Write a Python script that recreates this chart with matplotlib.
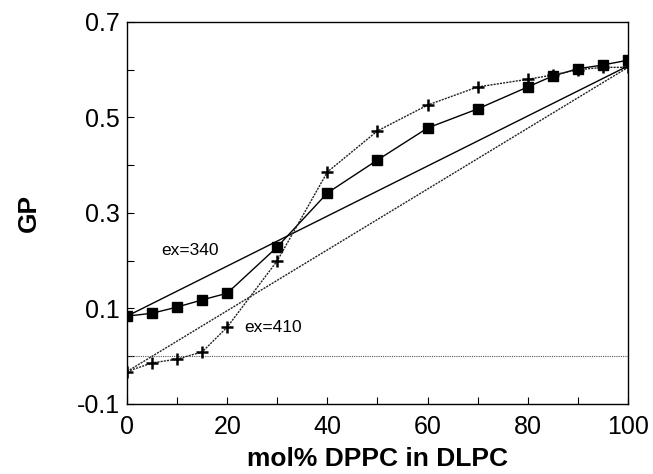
import matplotlib
matplotlib.use("Agg")
import matplotlib.pyplot as plt
import numpy as np

plt.rcParams['font.family'] = ['Liberation Sans', 'DejaVu Sans']

x_sq = [0, 5, 10, 15, 20, 30, 40, 50, 60, 70, 80, 85, 90, 95, 100]
gp_340 = [0.084, 0.090, 0.103, 0.118, 0.132, 0.229, 0.342, 0.411, 0.478, 0.518, 0.564, 0.587, 0.602, 0.610, 0.620]

x_pl = [0, 5, 10, 15, 20, 30, 40, 50, 60, 70, 80, 85, 90, 95, 100]
gp_410 = [-0.032, -0.014, -0.006, 0.009, 0.061, 0.200, 0.386, 0.472, 0.526, 0.564, 0.580, 0.589, 0.600, 0.605, 0.605]

ideal_x = [0, 100]
ideal_340 = [0.084, 0.608]
ideal_410 = [-0.032, 0.605]

fig = plt.figure(figsize=(6.53, 4.74), dpi=100)
ax = fig.add_axes([0.1945, 0.1477, 0.7672, 0.8059])

ax.axhline(0.0, color='#555555', lw=0.8, ls=(0, (1, 1)))
ax.plot(ideal_x, ideal_340, color='black', lw=1.0)
ax.plot(ideal_x, ideal_410, color='#222222', lw=1.0, ls=(0, (1.5, 0.8)))
ax.plot(x_sq, gp_340, color='black', lw=1.0, marker='s', ms=7.5)
ax.plot(x_pl, gp_410, color='#222222', lw=1.0, ls=(0, (1.5, 0.8)), marker='+', ms=8, mew=1.8, mec='black')

ax.text(12.5, 0.222, 'ex=340', fontsize=12.5, ha='center', va='center')
ax.text(23.5, 0.061, 'ex=410', fontsize=12.5, ha='left', va='center')

ax.set_xlim(0, 100)
ax.set_ylim(-0.1, 0.7)
ax.set_xticks(np.arange(0, 101, 20))
ax.set_xticks(np.arange(0, 101, 10), minor=True)
ax.set_yticks([-0.1, 0.1, 0.3, 0.5, 0.7])
ax.set_yticklabels(['-0.1', '0.1', '0.3', '0.5', '0.7'])
ax.set_yticks(np.arange(-0.1, 0.71, 0.1), minor=True)
ax.tick_params(which='both', direction='in', length=5, width=0.8, labelsize=18)
ax.tick_params(axis='x', pad=8)
ax.tick_params(axis='y', pad=5)
for s in ax.spines.values():
    s.set_linewidth(1.0)

ax.set_xlabel('mol% DPPC in DLPC', fontsize=19, fontweight='bold', labelpad=6)
ax.set_ylabel('GP', fontsize=19, fontweight='bold', labelpad=26)

fig.savefig('out.png', dpi=100)
